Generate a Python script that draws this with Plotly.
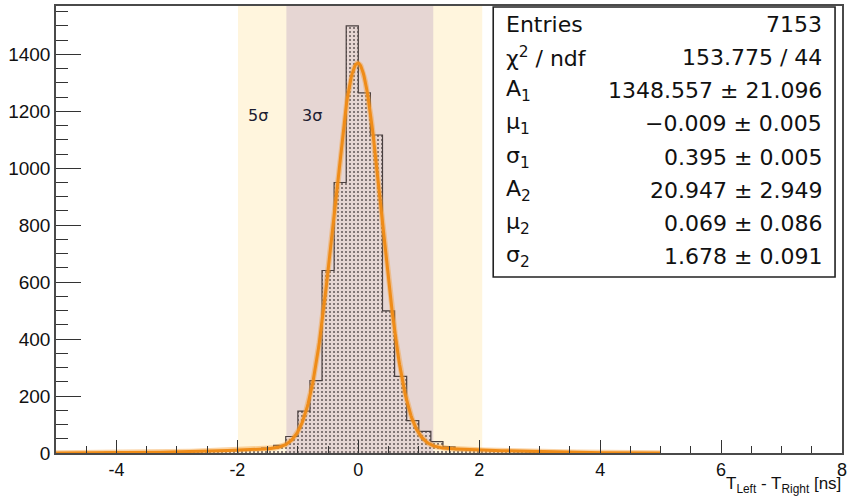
import numpy as np
import plotly.graph_objects as go

# ---------------- data ----------------
bin_edges_range = [-5.0, 5.0]
bin_width = 0.2
counts = [0, 1, 1, 1, 2, 1, 2, 3, 2, 4, 3, 5, 6, 7, 8, 11, 13,
          17, 27, 58, 147, 254, 641, 950, 1500, 1265, 1117, 499, 269, 114, 76, 40, 22,
          12, 10, 9, 7, 7, 5, 4, 4, 2, 3, 2, 1, 1, 1, 0, 1, 0]

# fit parameters (double gaussian)
A1, mu1, sigma1 = 1348.557, -0.009, 0.395
A2, mu2, sigma2 = 20.947, 0.069, 1.678
fit_range = [-5.0, 5.0]

band5 = [-1.99, 2.05]
band3 = [-1.19, 1.24]

stat_labels = ["Entries", "χ<sup>2</sup> / ndf", "A<sub>1</sub>", "μ<sub>1</sub>", "σ<sub>1</sub>",
               "A<sub>2</sub>", "μ<sub>2</sub>", "σ<sub>2</sub>"]
stat_values = ["7153", "153.775 / 44", "1348.557 ± 21.096", "−0.009 ± 0.005", "0.395 ± 0.005",
               "20.947 ± 2.949", "0.069 ± 0.086", "1.678 ± 0.091"]

x_tickvals = [-4, -2, 0, 2, 4, 6, 8]
x_ticktext = ["-4", "-2", "0", "2", "4", "6", "8"]
y_tickvals = [0, 200, 400, 600, 800, 1000, 1200, 1400]

# ---------------- derived ----------------
n = len(counts)
edges = bin_edges_range[0] + bin_width * np.arange(n + 1)
centers = edges[:-1] + bin_width / 2

xf = np.linspace(fit_range[0], fit_range[1], 800)
yf = A1 * np.exp(-0.5 * ((xf - mu1) / sigma1) ** 2) + A2 * np.exp(-0.5 * ((xf - mu2) / sigma2) ** 2)

W, H = 850, 496
ml, mr, mt, mb = 56, 3, 6, 43
pw, ph = W - ml - mr, H - mt - mb

def px_x(p):
    return (p - ml) / pw

def px_y(p):
    return (H - mb - p) / ph

fig = go.Figure()

fig.add_trace(go.Bar(
    x=centers, y=counts, width=bin_width,
    marker=dict(color="rgba(0,0,0,0)", line=dict(width=0),
                pattern=dict(shape=".", fgcolor="#6a5f5f", bgcolor="rgba(0,0,0,0)",
                             size=4, solidity=0.22, fillmode="replace")),
    showlegend=False, hoverinfo="skip"))

fig.add_trace(go.Scatter(
    x=edges, y=list(counts) + [counts[-1]], mode="lines", line_shape="hv",
    line=dict(color="#4a4040", width=1.2), showlegend=False, hoverinfo="skip"))

fig.add_trace(go.Scatter(
    x=xf, y=yf, mode="lines", line=dict(color="rgba(245,160,60,0.45)", width=5.5),
    showlegend=False, hoverinfo="skip"))
fig.add_trace(go.Scatter(
    x=xf, y=yf, mode="lines", line=dict(color="#ef8c18", width=3),
    showlegend=False, hoverinfo="skip"))

shapes = [
    dict(type="rect", xref="x", yref="paper", x0=band5[0], x1=band5[1], y0=0, y1=1,
         fillcolor="#fff5dd", line=dict(width=0), layer="below"),
    dict(type="rect", xref="x", yref="paper", x0=band3[0], x1=band3[1], y0=0, y1=1,
         fillcolor="#e6d6d3", line=dict(width=0), layer="below"),
    dict(type="rect", xref="paper", yref="paper", x0=px_x(496), x1=px_x(840),
         y0=px_y(277), y1=px_y(7), fillcolor="white", line=dict(color="#222", width=1.6),
         layer="above"),
]

annotations = []
row_y = [24.3 + 33.2 * i for i in range(len(stat_labels))]
for lab, val, ry in zip(stat_labels, stat_values, row_y):
    annotations.append(dict(xref="paper", yref="paper", x=px_x(507), y=px_y(ry),
                            xanchor="left", yanchor="middle", text=lab, showarrow=False,
                            font=dict(family="DejaVu Sans", size=22, color="#111")))
    annotations.append(dict(xref="paper", yref="paper", x=px_x(829), y=px_y(ry),
                            xanchor="right", yanchor="middle", text=val, showarrow=False,
                            font=dict(family="DejaVu Sans", size=22, color="#111")))

annotations.append(dict(xref="x", yref="y", x=-1.66, y=1185, text="5σ", showarrow=False,
                        font=dict(family="DejaVu Sans", size=16, color="#1c1c30")))
annotations.append(dict(xref="x", yref="y", x=-0.77, y=1185, text="3σ", showarrow=False,
                        font=dict(family="DejaVu Sans", size=16, color="#1c1c30")))
annotations.append(dict(xref="paper", yref="paper", x=px_x(848), y=px_y(485),
                        xanchor="right", yanchor="middle",
                        text="T<sub>Left</sub> - T<sub>Right</sub> [ns]", showarrow=False,
                        font=dict(family="Liberation Sans", size=17, color="#111")))

fig.update_layout(
    width=W, height=H, margin=dict(l=ml, r=mr, t=mt, b=mb),
    paper_bgcolor="white", plot_bgcolor="white", bargap=0,
    shapes=shapes, annotations=annotations,
    xaxis=dict(range=[-5, 8], tickmode="array", tickvals=x_tickvals, ticktext=x_ticktext,
               ticks="inside", ticklen=13, tickwidth=1.2, tickcolor="#333",
               minor=dict(ticks="inside", ticklen=7, dtick=0.5, tick0=0, tickcolor="#333", tickwidth=1.2),
               showline=True, linecolor="#4a4a4a", linewidth=1.5, mirror=True,
               showgrid=False, zeroline=False, ticklabeloverflow="allow",
               tickfont=dict(family="Liberation Sans", size=18, color="#111")),
    yaxis=dict(range=[0, 1570], tickmode="array", tickvals=y_tickvals,
               ticks="inside", ticklen=25, tickwidth=1.2, tickcolor="#333",
               minor=dict(ticks="inside", ticklen=12, dtick=50, tick0=0, tickcolor="#333", tickwidth=1.2),
               showline=True, linecolor="#4a4a4a", linewidth=1.5, mirror=True,
               showgrid=False, zeroline=False,
               tickfont=dict(family="Liberation Sans", size=19, color="#111")),
)

fig.write_html("out.html")
